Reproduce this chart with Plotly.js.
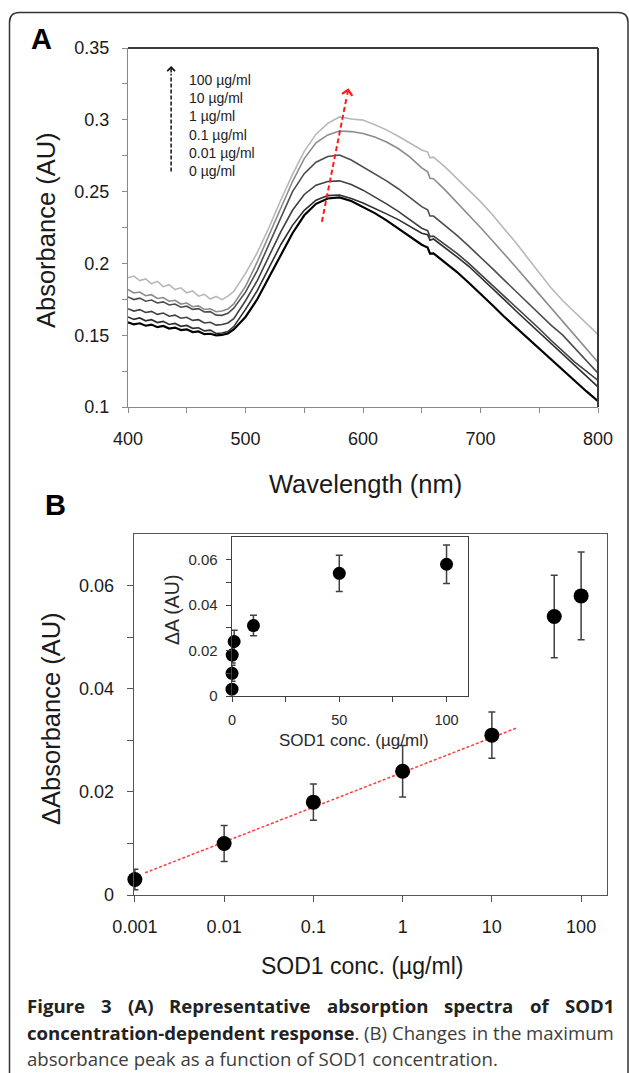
<!DOCTYPE html>
<html>
<head>
<meta charset="utf-8">
<script src="https://cdn.plot.ly/plotly-3.0.1.min.js"></script>
<style>
html,body{margin:0;padding:0;background:#fff;}
#chart{width:629px;height:1073px;}
</style>
</head>
<body>
<div id="chart"></div>
<script>
// ---------- Panel A data: absorption spectra ----------
const wavelength = [400,405,410,415,420,425,430,435,440,445,450,455,460,465,470,475,480,485,490,
  500,510,520,530,540,550,560,570,580,590,600,610,620,630,640,650,655,657,
  660,670,680,690,700,710,720,730,740,750,760,770,780,790,800];

const abs_0 = [0.1590,0.1575,0.1583,0.1566,0.1574,0.1556,0.1564,0.1546,0.1553,0.1536,0.1541,0.1522,0.1526,0.1507,0.1510,0.1499,0.1502,0.1512,0.1540,
  0.1627,0.1750,0.1905,0.2065,0.2210,0.2335,0.2415,0.2452,0.2460,0.2435,0.2395,0.2350,0.2300,0.2245,0.2190,0.2130,0.2110,0.2068,
  0.2070,0.2005,0.1940,0.1865,0.1790,0.1710,0.1630,0.1555,0.1480,0.1405,0.1330,0.1255,0.1180,0.1110,0.1040];
const abs_001 = [0.1627,0.1610,0.1620,0.1600,0.1608,0.1588,0.1596,0.1575,0.1582,0.1562,0.1568,0.1548,0.1552,0.1530,0.1535,0.1512,0.1515,0.1525,0.1560,
  0.1680,0.1810,0.1970,0.2130,0.2265,0.2370,0.2440,0.2472,0.2476,0.2452,0.2420,0.2385,0.2345,0.2305,0.2260,0.2210,0.2200,0.2162,
  0.2170,0.2110,0.2045,0.1980,0.1905,0.1830,0.1750,0.1670,0.1595,0.1520,0.1445,0.1365,0.1290,0.1215,0.1140];
const abs_01 = [0.1685,0.1668,0.1678,0.1658,0.1666,0.1645,0.1654,0.1632,0.1640,0.1618,0.1625,0.1603,0.1608,0.1585,0.1590,0.1570,0.1574,0.1585,0.1615,
  0.1740,0.1880,0.2050,0.2220,0.2370,0.2480,0.2545,0.2570,0.2575,0.2550,0.2510,0.2465,0.2415,0.2362,0.2305,0.2245,0.2228,0.2187,
  0.2190,0.2130,0.2070,0.2000,0.1925,0.1850,0.1770,0.1695,0.1620,0.1545,0.1465,0.1390,0.1315,0.1250,0.1185];
const abs_1 = [0.1766,0.1748,0.1758,0.1737,0.1745,0.1724,0.1732,0.1710,0.1717,0.1695,0.1702,0.1680,0.1685,0.1662,0.1664,0.1640,0.1638,0.1652,0.1688,
  0.1800,0.1950,0.2130,0.2320,0.2500,0.2625,0.2705,0.2745,0.2755,0.2720,0.2672,0.2625,0.2575,0.2520,0.2460,0.2395,0.2373,0.2330,
  0.2330,0.2265,0.2195,0.2120,0.2045,0.1965,0.1885,0.1805,0.1725,0.1645,0.1570,0.1500,0.1410,0.1320,0.1235];
const abs_10 = [0.1818,0.1794,0.1801,0.1775,0.1782,0.1756,0.1762,0.1737,0.1743,0.1717,0.1724,0.1698,0.1704,0.1679,0.1684,0.1663,0.1668,0.1682,0.1718,
  0.1840,0.2010,0.2200,0.2380,0.2570,0.2730,0.2840,0.2895,0.2922,0.2918,0.2905,0.2880,0.2845,0.2800,0.2740,0.2665,0.2638,0.2593,
  0.2590,0.2510,0.2425,0.2335,0.2250,0.2160,0.2070,0.1975,0.1880,0.1785,0.1690,0.1600,0.1505,0.1410,0.1312];
const abs_100 = [0.1900,0.1912,0.1880,0.1892,0.1858,0.1875,0.1838,0.1852,0.1818,0.1830,0.1795,0.1808,0.1772,0.1785,0.1752,0.1770,0.1748,0.1772,0.1805,
  0.1930,0.2075,0.2250,0.2440,0.2620,0.2780,0.2900,0.2975,0.3020,0.3005,0.2998,0.2965,0.2930,0.2885,0.2840,0.2790,0.2775,0.2735,
  0.2740,0.2670,0.2590,0.2510,0.2430,0.2340,0.2245,0.2145,0.2040,0.1935,0.1830,0.1740,0.1660,0.1585,0.1505];

const spectraNames = ['0 µg/ml','0.01 µg/ml','0.1 µg/ml','1 µg/ml','10 µg/ml','100 µg/ml'];
const legendLines = ['100 µg/ml','10 µg/ml','1 µg/ml','0.1 µg/ml','0.01 µg/ml','0 µg/ml'];

// ---------- Panel B data ----------
const concentration = [0.001, 0.01, 0.1, 1, 10, 50, 100];
const deltaA = [0.0030, 0.0100, 0.0180, 0.0240, 0.0310, 0.0540, 0.0580];
const deltaErr = [0.0020, 0.0035, 0.0035, 0.0050, 0.0045, 0.0080, 0.0085];
const fitX = [0.0013, 19];
const fitY = [0.0043, 0.0324];

const xTicksA = [400,450,500,550,600,650,700,750,800];
const xLabelsA = ['400','','500','','600','','700','','800'];
const yTicksA = [0.1,0.125,0.15,0.175,0.2,0.225,0.25,0.275,0.3,0.325,0.35];
const yLabelsA = ['0.1','','0.15','','0.2','','0.25','','0.3','','0.35'];
const xTicksB = [0.001,0.01,0.1,1,10,100];
const xLabelsB = ['0.001','0.01','0.1','1','10','100'];
const yTicksB = [0,0.01,0.02,0.03,0.04,0.05,0.06];
const yLabelsB = ['0','','0.02','','0.04','','0.06'];
const xTicksIn = [0,25,50,75,100];
const xLabelsIn = ['0','','50','','100'];

const captionLine1 = ['Figure','3','(A)','Representative','absorption','spectra','of','SOD1'];
const captionLine2Bold = ['concentration-dependent','response'];
const captionLine2 = ['(B)','Changes','in','the','maximum'];
const captionLine3 = 'absorbance peak as a function of SOD1 concentration.';

// ---------- layout helpers ----------
const W = 629, H = 1073;
const px = v => v / W;
const py = v => 1 - v / H;
const FONT = 'Liberation Sans, Arial, sans-serif';
const TXT = '#1a1a1a';

const spectraSeries = [abs_0, abs_001, abs_01, abs_1, abs_10, abs_100];
const spectraColors = ['#000000','#2e2e2e','#404040','#4d4d4d','#8c8c8c','#b8b8b8'];
const spectraWidths = [2.2,1.6,1.6,1.6,1.6,1.6];

const traces = spectraSeries.map((ys, i) => ({
  type: 'scatter', mode: 'lines', x: wavelength, y: ys, name: spectraNames[i],
  xaxis: 'x', yaxis: 'y', line: {color: spectraColors[i], width: spectraWidths[i]},
  showlegend: false, hoverinfo: 'skip'
}));

traces.push({
  type: 'scatter', mode: 'lines', x: fitX, y: fitY, xaxis: 'x2', yaxis: 'y2',
  line: {color: '#ff3b3b', width: 1.5, dash: '3px,2px'}, showlegend: false
});
traces.push({
  type: 'scatter', mode: 'markers', x: concentration, y: deltaA, xaxis: 'x2', yaxis: 'y2',
  marker: {color: '#000', size: 15}, cliponaxis: false,
  error_y: {type: 'data', array: deltaErr, visible: true, color: '#404040', thickness: 1.5, width: 3.5},
  showlegend: false
});
traces.push({
  type: 'scatter', mode: 'markers', x: concentration, y: deltaA, xaxis: 'x3', yaxis: 'y3',
  marker: {color: '#000', size: 13}, cliponaxis: false,
  error_y: {type: 'data', array: deltaErr, visible: true, color: '#404040', thickness: 1.5, width: 3.5},
  showlegend: false
});

const axBase = {
  showgrid: false, zeroline: false, showline: true, ticks: 'outside',
  tickfont: {family: FONT, size: 18, color: TXT}, fixedrange: true
};

const layout = {
  width: W, height: H,
  margin: {l: 0, r: 0, t: 0, b: 0},
  paper_bgcolor: '#fff', plot_bgcolor: 'rgba(0,0,0,0)',
  showlegend: false,
  xaxis: Object.assign({}, axBase, {
    domain: [px(128), px(598)], range: [400, 800], anchor: 'y',
    tickmode: 'array', tickvals: xTicksA, ticktext: xLabelsA,
    linecolor: '#8a8a8a', linewidth: 1.2, tickcolor: '#8a8a8a', ticklen: 5, ticklabelstandoff: 10
  }),
  yaxis: Object.assign({}, axBase, {
    domain: [py(407), py(48)], range: [0.1, 0.35], anchor: 'x',
    tickmode: 'array', tickvals: yTicksA, ticktext: yLabelsA,
    linecolor: '#8a8a8a', linewidth: 1.2, tickcolor: '#8a8a8a', ticklen: 5, ticklabelstandoff: 9
  }),
  xaxis2: Object.assign({}, axBase, {
    type: 'log', domain: [px(134), px(607)], range: [-3.01, 2.29], anchor: 'y2',
    tickmode: 'array', tickvals: xTicksB, ticktext: xLabelsB, mirror: true,
    linecolor: '#555', linewidth: 1.4, tickcolor: '#555', ticklen: 6, ticklabelstandoff: 9
  }),
  yaxis2: Object.assign({}, axBase, {
    domain: [py(895), py(534)], range: [0, 0.07], anchor: 'x2',
    tickmode: 'array', tickvals: yTicksB, ticktext: yLabelsB, mirror: true,
    linecolor: '#555', linewidth: 1.4, tickcolor: '#555', ticklen: 6, ticklabelstandoff: 9
  }),
  xaxis3: Object.assign({}, axBase, {
    domain: [px(232), px(468)], range: [0, 110], anchor: 'y3',
    tickmode: 'array', tickvals: xTicksIn, ticktext: xLabelsIn, mirror: true,
    linecolor: '#404040', linewidth: 1.4, tickcolor: '#404040', ticklen: 5, ticklabelstandoff: 5,
    tickfont: {family: FONT, size: 14.5, color: '#2a2a2a'}
  }),
  yaxis3: Object.assign({}, axBase, {
    domain: [py(696), py(537)], range: [0, 0.07], anchor: 'x3',
    tickmode: 'array', tickvals: yTicksB, ticktext: yLabelsB, mirror: true,
    linecolor: '#404040', linewidth: 1.4, tickcolor: '#404040', ticklen: 5, ticklabelstandoff: 5,
    tickfont: {family: FONT, size: 15, color: '#2a2a2a'}
  }),
  shapes: [],
  annotations: []
};

// frame of panel A (top and right borders)
layout.shapes.push({type: 'line', xref: 'x domain', yref: 'y domain', x0: 0, x1: 1, y0: 1, y1: 1, line: {color: '#3a3a3a', width: 2}});
layout.shapes.push({type: 'line', xref: 'x domain', yref: 'y domain', x0: 1, x1: 1, y0: 0, y1: 1, line: {color: '#3a3a3a', width: 2}});

// outer rounded figure frame
const fr = {l: 9.5, t: 12.5, r: 628, b: 1073, rad: 10};
layout.shapes.push({
  type: 'path', xref: 'paper', yref: 'paper',
  path: `M ${px(fr.l)},${py(fr.b)} L ${px(fr.l)},${py(fr.t + fr.rad)} Q ${px(fr.l)},${py(fr.t)} ${px(fr.l + fr.rad)},${py(fr.t)} L ${px(fr.r - fr.rad)},${py(fr.t)} Q ${px(fr.r)},${py(fr.t)} ${px(fr.r)},${py(fr.t + fr.rad)} L ${px(fr.r)},${py(fr.b)}`,
  line: {color: '#333', width: 1.5}
});

// dashed arrows in panel A
layout.shapes.push({type: 'line', xref: 'x', yref: 'y', x0: 565, y0: 0.229, x1: 586.3, y1: 0.3165, line: {color: '#ff1a1a', width: 2, dash: '5px,3px'}});
layout.annotations.push({xref: 'x', yref: 'y', x: 587.6, y: 0.322, ax: -1.5, ay: 8, axref: 'pixel', ayref: 'pixel', text: '', showarrow: true, arrowhead: 4, arrowsize: 1, arrowwidth: 2, arrowcolor: '#ff1a1a', standoff: 0});
layout.shapes.push({type: 'line', xref: 'x', yref: 'y', x0: 436.7, y0: 0.264, x1: 436.7, y1: 0.332, line: {color: '#111', width: 1.5, dash: '4px,2px'}});
layout.annotations.push({xref: 'x', yref: 'y', x: 436.7, y: 0.3375, ax: 0, ay: 8, text: '', showarrow: true, arrowhead: 4, arrowsize: 1, arrowwidth: 1.5, arrowcolor: '#111', standoff: 0});

function txt(text, x, y, size, opts) {
  layout.annotations.push(Object.assign({
    xref: 'paper', yref: 'paper', x: px(x), y: py(y), text: text, showarrow: false,
    xanchor: 'center', yanchor: 'middle', borderpad: 0,
    font: {family: FONT, size: size, color: TXT}
  }, opts || {}));
}

// legend text
legendLines.forEach((t, i) => txt(t, 188, 80 + i * 18.2, 14, {xanchor: 'left', font: {family: FONT, size: 14, color: '#222'}}));

// panel labels and axis titles
txt('A', 41, 39, 29, {font: {family: FONT, size: 29, color: '#000', weight: 'bold'}});
txt('B', 55, 505, 29, {font: {family: FONT, size: 29, color: '#000', weight: 'bold'}});
txt('Absorbance (AU)', 46, 230, 25.5, {textangle: -90});
txt('Wavelength (nm)', 365, 484, 25.5);
txt('ΔAbsorbance (AU)', 51, 719, 25.5, {textangle: -90});
txt('SOD1 conc. (µg/ml)', 362, 966, 23);
txt('ΔA (AU)', 172, 610, 19.5, {textangle: -90, font: {family: FONT, size: 19.5, color: '#2a2a2a'}});
txt('SOD1 conc. (µg/ml)', 354, 740, 17, {font: {family: FONT, size: 17, color: '#2a2a2a'}});

// caption (justified lines measured with canvas)
const CAP_FONT = 'Open Sans';
const ctx = document.createElement('canvas').getContext('2d');
function measure(t, weight, size) { ctx.font = `${weight} ${size}px "${CAP_FONT}"`; return ctx.measureText(t).width; }
const capL = 26, capR = 613;
let capSize = 17;
const natural3 = measure(captionLine3, 'normal', capSize);
capSize = Math.max(15, Math.min(19, capSize * 471 / natural3));
const boldCol = '#222', normCol = '#3d3d3d';

function justify(words, y) {
  const widths = words.map(w => measure(w.t, w.weight, capSize) + (w.tail ? measure(w.tail, 'normal', capSize) : 0));
  const total = widths.reduce((a, b) => a + b, 0);
  const gap = (capR - capL - total) / (words.length - 1);
  let x = capL;
  words.forEach((w, i) => {
    layout.annotations.push({
      xref: 'paper', yref: 'paper', x: px(x), y: py(y), xanchor: 'left', yanchor: 'middle',
      showarrow: false, borderpad: 0,
      text: w.tail ? `<b>${w.t}</b>${w.tail}` : w.t,
      font: {family: CAP_FONT, size: capSize, color: w.weight === 'bold' ? boldCol : normCol, weight: w.tail ? 'normal' : w.weight}
    });
    x += widths[i] + gap;
  });
}
justify(captionLine1.map(t => ({t, weight: 'bold'})), 1005);
justify([{t: captionLine2Bold[0], weight: 'bold'}, {t: captionLine2Bold[1], weight: 'bold', tail: '.'}]
  .concat(captionLine2.map(t => ({t, weight: 'normal'}))), 1032);
layout.annotations.push({
  xref: 'paper', yref: 'paper', x: px(capL), y: py(1058), xanchor: 'left', yanchor: 'middle',
  showarrow: false, borderpad: 0, text: captionLine3,
  font: {family: CAP_FONT, size: capSize, color: normCol}
});

Plotly.newPlot('chart', traces, layout, {displayModeBar: false, staticPlot: true});
</script>
</body>
</html>
